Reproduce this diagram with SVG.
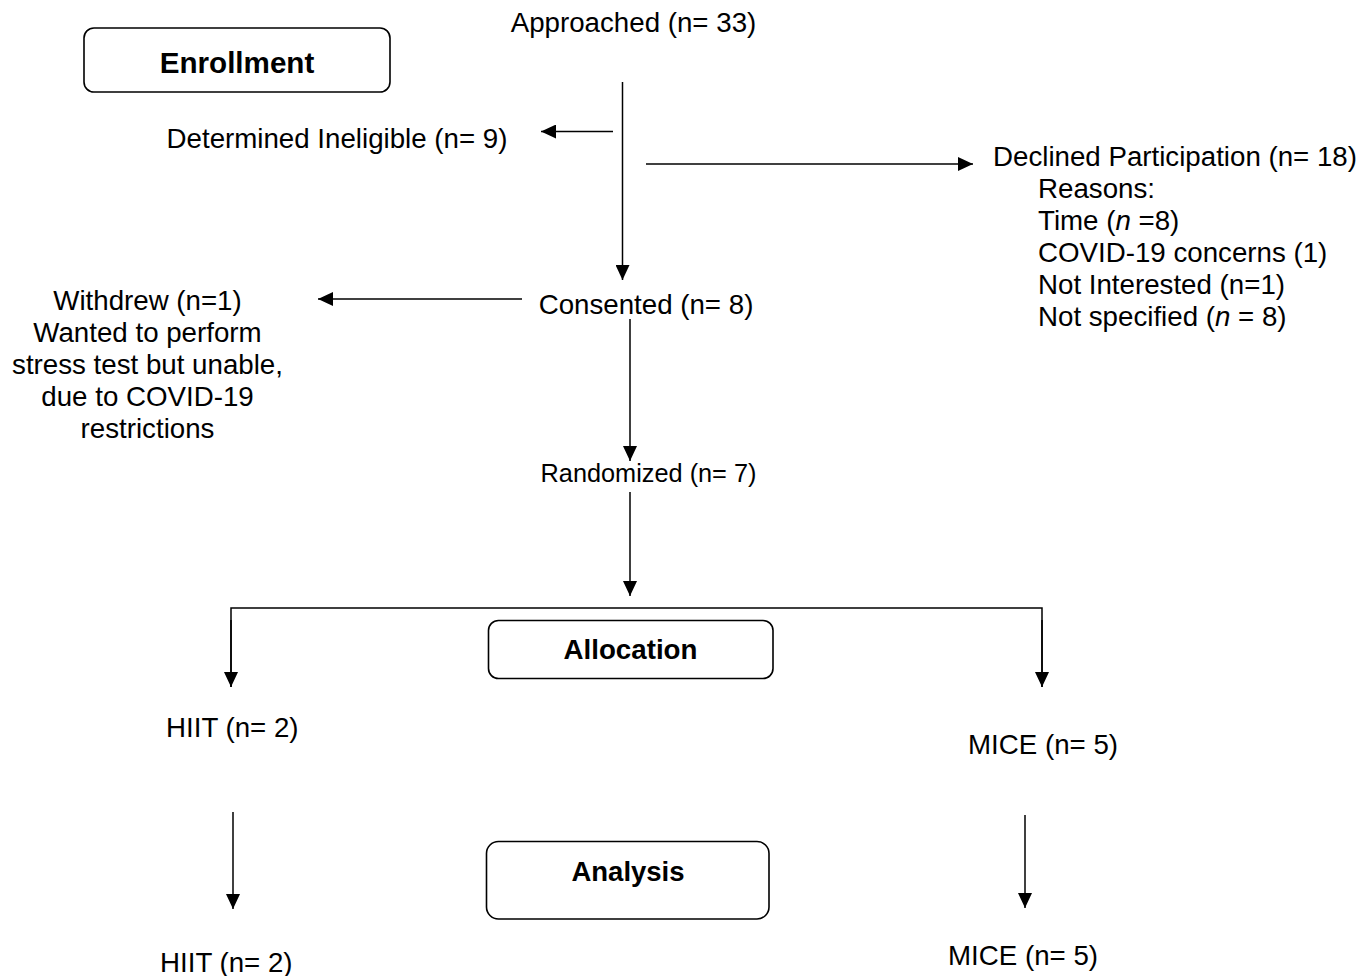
<svg xmlns="http://www.w3.org/2000/svg" width="1372" height="976" viewBox="0 0 1372 976">
<style>
  .t { font-family: "Liberation Sans", Arial, sans-serif; font-size: 27.7px; fill: #000; }
  .s { font-size: 25.3px; }
  .b { font-family: "Liberation Sans", Arial, sans-serif; font-weight: bold; fill: #000; }
  .box { fill: #fff; stroke: #000; stroke-width: 1.6; }
  .ln { stroke: #000; stroke-width: 1.5; fill: none; }
  .ar { marker-end: url(#ah); }
</style>
<defs>
  <marker id="ah" viewBox="0 0 15 14" refX="15" refY="7" markerWidth="15" markerHeight="14" markerUnits="userSpaceOnUse" orient="auto">
    <path d="M0,0 L15,7 L0,14 Z" fill="#000"/>
  </marker>
</defs>
<rect width="1372" height="976" fill="#fff"/>

<g id="connectors">
  <line class="ln ar" x1="622.5" y1="82" x2="622.5" y2="280"/>
  <line class="ln ar" x1="613" y1="131.5" x2="541" y2="131.5"/>
  <line class="ln ar" x1="646" y1="164" x2="973" y2="164"/>
  <line class="ln ar" x1="522" y1="299" x2="318" y2="299"/>
  <line class="ln ar" x1="630" y1="319" x2="630" y2="461"/>
  <line class="ln ar" x1="630" y1="492" x2="630" y2="596"/>
  <polyline class="ln" points="231,687 231,608 1042,608 1042,687"/>
  <line class="ln ar" x1="231" y1="620" x2="231" y2="687"/>
  <line class="ln ar" x1="1042" y1="620" x2="1042" y2="687"/>
  <line class="ln ar" x1="233" y1="812" x2="233" y2="909"/>
  <line class="ln ar" x1="1025" y1="815" x2="1025" y2="908"/>
</g>

<g id="enrollment">
  <rect class="box" x="84" y="28" width="306" height="64" rx="10"/>
  <text class="b" x="237" y="72.5" font-size="29.6" text-anchor="middle">Enrollment</text>
</g>

<g id="approached">
  <text class="t" x="633.5" y="31.5" text-anchor="middle">Approached (n= 33)</text>
</g>

<g id="ineligible">
  <text class="t" x="337" y="148" text-anchor="middle">Determined Ineligible (n= 9)</text>
</g>

<g id="declined">
  <text class="t" x="993" y="166">Declined Participation (n= 18)</text>
  <text class="t" x="1038" y="198">Reasons:</text>
  <text class="t" x="1038" y="230">Time (<tspan font-style="italic">n</tspan> =8)</text>
  <text class="t" x="1038" y="262">COVID-19 concerns (1)</text>
  <text class="t" x="1038" y="294">Not Interested (n=1)</text>
  <text class="t" x="1038" y="326">Not specified (<tspan font-style="italic">n</tspan> = 8)</text>
</g>

<g id="consented">
  <text class="t" x="646" y="314" text-anchor="middle">Consented (n= 8)</text>
</g>

<g id="withdrew">
  <text class="t" x="147.5" y="310" text-anchor="middle">Withdrew (n=1)</text>
  <text class="t" x="147.5" y="342" text-anchor="middle">Wanted to perform</text>
  <text class="t" x="147.5" y="374" text-anchor="middle">stress test but unable,</text>
  <text class="t" x="147.5" y="406" text-anchor="middle">due to COVID-19</text>
  <text class="t" x="147.5" y="438" text-anchor="middle">restrictions</text>
</g>

<g id="randomized">
  <text class="t s" x="648.5" y="482" text-anchor="middle">Randomized (n= 7)</text>
</g>

<g id="allocation">
  <rect class="box" x="488.5" y="620.5" width="284.5" height="58" rx="10"/>
  <text class="b" x="630.5" y="658.5" font-size="27.7" text-anchor="middle">Allocation</text>
</g>

<g id="hiit-alloc">
  <text class="t" x="166" y="737">HIIT (n= 2)</text>
</g>

<g id="mice-alloc">
  <text class="t" x="968" y="754">MICE (n= 5)</text>
</g>

<g id="analysis">
  <rect class="box" x="486.5" y="841.5" width="282.5" height="77.5" rx="12"/>
  <text class="b" x="628" y="880.5" font-size="27.5" text-anchor="middle">Analysis</text>
</g>

<g id="hiit-analysis">
  <text class="t" x="160" y="972">HIIT (n= 2)</text>
</g>

<g id="mice-analysis">
  <text class="t" x="948" y="965">MICE (n= 5)</text>
</g>
</svg>
